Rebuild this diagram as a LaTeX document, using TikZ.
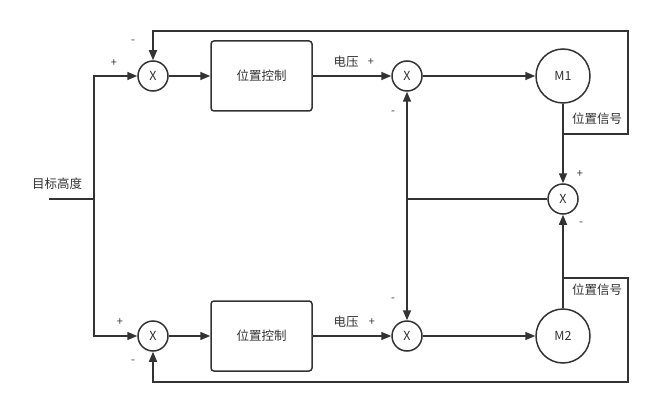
\documentclass[tikz,border=0pt]{standalone}
\usepackage{fontspec}
\setmainfont{Noto Sans CJK SC}
\usetikzlibrary{arrows.meta}
\definecolor{ink}{HTML}{333333}
\begin{document}
\begin{tikzpicture}[x=1pt,y=-1pt,
  every node/.style={text=ink,font=\fontsize{12.5}{14}\selectfont},
  sumnode/.style={circle,draw=ink,line width=1.5pt,minimum size=30pt,inner sep=0pt},
  motor/.style={circle,draw=ink,line width=1.5pt,minimum size=54pt,inner sep=0pt},
  ctrl/.style={rectangle,rounded corners=3pt,draw=ink,line width=1.5pt,minimum width=101pt,minimum height=70pt,inner sep=0pt},
  wire/.style={draw=ink,line width=1.5pt},
  arr/.style={wire,-{Triangle[length=10pt,width=8pt]}},
  sign/.style={font=\fontsize{11}{12}\selectfont,inner sep=0pt}]
\useasboundingbox (0,0) rectangle (660,414);
% nodes
\node[sumnode] (s1) at (153,76) {X};
\node[ctrl] (b1) at (261.5,76) {位置控制};
\node[sumnode] (s2) at (407,76) {X};
\node[motor] (m1) at (563,76) {M1};
\node[sumnode] (s3) at (563,199) {X};
\node[sumnode] (s4) at (153,336) {X};
\node[ctrl] (b2) at (261.5,336) {位置控制};
\node[sumnode] (s5) at (407,336) {X};
\node[motor] (m2) at (563,336) {M2};
\coordinate (in) at (49,199);
\coordinate (j) at (94,199);
\coordinate (j1) at (407,199);
\coordinate (f1) at (563,134);
\coordinate (f1a) at (628,134);
\coordinate (f1b) at (628,31);
\coordinate (f2) at (563,278);
\coordinate (f2a) at (628,278);
\coordinate (f2b) at (628,382);
% labels
\node (tgt) at (57,184) {目标高度};
\node (v1) at (346,62) {电压};
\node (v2) at (346,322) {电压};
\node (p1) at (597,119) {位置信号};
\node (p2) at (597,290) {位置信号};
\node[sign] at (114,63) {+};
\node[sign] at (133,42) {-};
\node[sign] at (371,62) {+};
\node[sign] at (393,113) {-};
\node[sign] at (580,174) {+};
\node[sign] at (581,224) {-};
\node[sign] at (120,322) {+};
\node[sign] at (133,362) {-};
\node[sign] at (372,322) {+};
\node[sign] at (393,300) {-};
% connectors
\draw[wire] (in) -- (j);
\draw[arr] (j) |- (s1.west);
\draw[arr] (j) |- (s4.west);
\draw[arr] (s1) -- (b1);
\draw[arr] (b1) -- (s2);
\draw[arr] (s2) -- (m1);
\draw[arr] (s4) -- (b2);
\draw[arr] (b2) -- (s5);
\draw[arr] (s5) -- (m2);
\draw[arr] (m1.south) -- (s3.north);
\draw[arr] (m2.north) -- (s3.south);
\draw[wire] (s3.west) -- (j1);
\draw[arr] (j1) -- (s2.south);
\draw[arr] (j1) -- (s5.north);
\draw[arr] (f1) -- (f1a) -- (f1b) -| (s1.north);
\draw[arr] (f2) -- (f2a) -- (f2b) -| (s4.south);
\end{tikzpicture}
\end{document}
